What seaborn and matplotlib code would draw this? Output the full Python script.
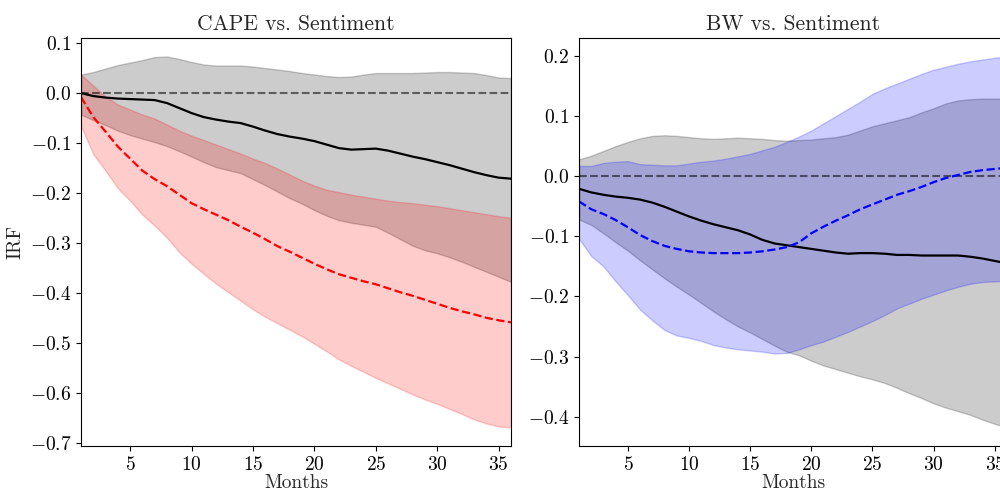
import numpy as np
import pandas as pd
import matplotlib
matplotlib.use("Agg")
import matplotlib.pyplot as plt
import seaborn as sns

months = list(range(1, 37))

# CAPE vs. Sentiment
cape_irf = [0.0, -0.006, -0.009, -0.011, -0.012, -0.013, -0.014, -0.020, -0.030, -0.040,
            -0.048, -0.053, -0.057, -0.060, -0.067, -0.075, -0.082, -0.087, -0.091, -0.096,
            -0.103, -0.110, -0.113, -0.112, -0.111, -0.115, -0.121, -0.127, -0.132, -0.138,
            -0.144, -0.151, -0.158, -0.164, -0.169, -0.171]
cape_upper = [0.037, 0.042, 0.049, 0.056, 0.061, 0.066, 0.072, 0.073, 0.068, 0.062,
              0.057, 0.055, 0.055, 0.055, 0.053, 0.050, 0.047, 0.044, 0.040, 0.037,
              0.034, 0.032, 0.033, 0.037, 0.040, 0.040, 0.040, 0.040, 0.041, 0.042,
              0.042, 0.041, 0.040, 0.036, 0.031, 0.030]
cape_lower = [-0.043, -0.054, -0.064, -0.075, -0.084, -0.091, -0.098, -0.106, -0.116, -0.127,
              -0.138, -0.148, -0.154, -0.160, -0.172, -0.184, -0.197, -0.210, -0.221, -0.234,
              -0.245, -0.254, -0.259, -0.263, -0.267, -0.279, -0.292, -0.305, -0.314, -0.320,
              -0.328, -0.337, -0.347, -0.357, -0.367, -0.377]
sent_cape_irf = [-0.008, -0.048, -0.077, -0.107, -0.131, -0.155, -0.172, -0.186, -0.203, -0.220,
                 -0.232, -0.243, -0.254, -0.267, -0.279, -0.292, -0.306, -0.317, -0.329, -0.341,
                 -0.352, -0.362, -0.369, -0.376, -0.382, -0.390, -0.398, -0.405, -0.413, -0.421,
                 -0.429, -0.436, -0.442, -0.449, -0.454, -0.458]
sent_cape_upper = [0.037, 0.015, -0.007, -0.023, -0.033, -0.043, -0.051, -0.063, -0.075, -0.085,
                   -0.094, -0.103, -0.112, -0.121, -0.131, -0.140, -0.151, -0.163, -0.175, -0.185,
                   -0.193, -0.198, -0.203, -0.207, -0.211, -0.215, -0.218, -0.220, -0.223, -0.226,
                   -0.230, -0.234, -0.238, -0.242, -0.246, -0.249]
sent_cape_lower = [-0.066, -0.122, -0.155, -0.190, -0.215, -0.243, -0.265, -0.289, -0.318, -0.341,
                   -0.361, -0.381, -0.398, -0.415, -0.432, -0.447, -0.460, -0.473, -0.486, -0.501,
                   -0.516, -0.532, -0.545, -0.557, -0.569, -0.580, -0.591, -0.602, -0.612, -0.621,
                   -0.631, -0.641, -0.652, -0.660, -0.666, -0.668]

# BW vs. Sentiment
bw_irf = [-0.021, -0.027, -0.031, -0.034, -0.036, -0.039, -0.044, -0.051, -0.059, -0.067,
          -0.074, -0.080, -0.085, -0.090, -0.097, -0.106, -0.112, -0.115, -0.118, -0.121,
          -0.124, -0.127, -0.129, -0.128, -0.128, -0.129, -0.131, -0.131, -0.132, -0.132,
          -0.132, -0.132, -0.134, -0.137, -0.141, -0.145]
bw_upper = [0.028, 0.034, 0.042, 0.050, 0.057, 0.063, 0.067, 0.068, 0.067, 0.065,
            0.063, 0.062, 0.063, 0.064, 0.063, 0.062, 0.060, 0.059, 0.060, 0.061,
            0.063, 0.065, 0.069, 0.076, 0.083, 0.088, 0.093, 0.098, 0.106, 0.113,
            0.121, 0.126, 0.128, 0.129, 0.129, 0.129]
bw_lower = [-0.072, -0.081, -0.095, -0.110, -0.124, -0.140, -0.155, -0.170, -0.184, -0.197,
            -0.211, -0.225, -0.238, -0.250, -0.260, -0.271, -0.282, -0.292, -0.298, -0.307,
            -0.315, -0.321, -0.327, -0.333, -0.338, -0.344, -0.352, -0.361, -0.369, -0.378,
            -0.385, -0.391, -0.397, -0.405, -0.412, -0.418]
sent_bw_irf = [-0.042, -0.055, -0.063, -0.073, -0.085, -0.098, -0.108, -0.116, -0.121, -0.125,
               -0.127, -0.128, -0.128, -0.128, -0.127, -0.125, -0.122, -0.118, -0.110, -0.095,
               -0.084, -0.074, -0.065, -0.055, -0.047, -0.039, -0.031, -0.025, -0.018, -0.010,
               -0.003, 0.002, 0.007, 0.010, 0.012, 0.014]
sent_bw_upper = [0.017, 0.017, 0.022, 0.024, 0.025, 0.020, 0.019, 0.018, 0.018, 0.021,
                 0.024, 0.026, 0.029, 0.033, 0.037, 0.043, 0.049, 0.057, 0.066, 0.076,
                 0.088, 0.100, 0.112, 0.124, 0.137, 0.146, 0.154, 0.162, 0.170, 0.177,
                 0.182, 0.187, 0.191, 0.194, 0.197, 0.199]
sent_bw_lower = [-0.104, -0.133, -0.150, -0.175, -0.198, -0.222, -0.240, -0.256, -0.265, -0.269,
                 -0.274, -0.281, -0.285, -0.288, -0.290, -0.292, -0.295, -0.294, -0.288, -0.281,
                 -0.275, -0.267, -0.259, -0.250, -0.241, -0.231, -0.220, -0.212, -0.204, -0.197,
                 -0.190, -0.184, -0.179, -0.176, -0.175, -0.174]

titles = ["CAPE vs. Sentiment", "BW vs. Sentiment"]

sns.set_style("ticks")
plt.rcParams["font.family"] = "serif"
plt.rcParams["font.serif"] = ["cmr10", "DejaVu Serif"]
plt.rcParams["mathtext.fontset"] = "cm"
plt.rcParams["axes.formatter.use_mathtext"] = True
plt.rcParams["axes.unicode_minus"] = True
plt.rcParams["axes.edgecolor"] = "black"
plt.rcParams["xtick.color"] = "black"
plt.rcParams["ytick.color"] = "black"

fig = plt.figure(figsize=(10, 4.92), dpi=100)
ax1 = fig.add_axes([0.081, 0.0935, 0.430, 0.8293])
ax2 = fig.add_axes([0.579, 0.0935, 0.428, 0.8293])

panels = [
    (ax1, cape_irf, cape_upper, cape_lower, sent_cape_irf, sent_cape_upper, sent_cape_lower, "red"),
    (ax2, bw_irf, bw_upper, bw_lower, sent_bw_irf, sent_bw_upper, sent_bw_lower, "blue"),
]

for i, (ax, irf, up, lo, sirf, sup, slo, col) in enumerate(panels):
    df = pd.DataFrame({"month": months, "irf": irf, "sirf": sirf})
    ax.fill_between(months, lo, up, color="black", alpha=0.2)
    ax.fill_between(months, slo, sup, color=col, alpha=0.2)
    ax.axhline(0, color="black", ls="--", lw=1.5, alpha=0.55)
    sns.lineplot(data=df, x="month", y="irf", ax=ax, color="black", lw=1.6)
    sns.lineplot(data=df, x="month", y="sirf", ax=ax, color=col, lw=1.6, linestyle="--")
    ax.set_xlim(1, 36)
    ax.set_xticks([5, 10, 15, 20, 25, 30, 35])
    ax.set_title(titles[i], fontsize=15.5)
    ax.set_xlabel("Months", fontsize=14, labelpad=0.5)
    ax.set_ylabel("IRF" if i == 0 else "", fontsize=14)
    ax.tick_params(labelsize=14)
    for s in ax.spines.values():
        s.set_visible(True)
        s.set_color("black")

ax1.set_yticks(np.arange(-0.7, 0.11, 0.1))
ax2.set_yticks(np.arange(-0.4, 0.21, 0.1))

fig.savefig("out.png", dpi=100)
